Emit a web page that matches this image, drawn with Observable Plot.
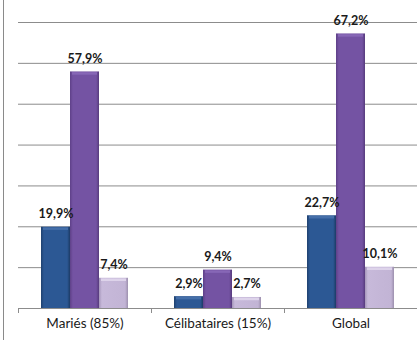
<!DOCTYPE html>
<html>
<head>
<meta charset="utf-8">
<script src="https://cdn.jsdelivr.net/npm/d3@7"></script>
<script src="https://cdn.jsdelivr.net/npm/@observablehq/plot@0.6"></script>
<style>
  html, body { margin: 0; padding: 0; background: #fff; }
  #chart { position: relative; width: 417px; height: 340px; overflow: hidden; }
  #chart::before { content: ""; position: absolute; left: 3px; top: 0; bottom: 0; border-left: 1px solid #8a8a8a; }
  #chart svg { display: block; }
</style>
</head>
<body>
<div id="chart"></div>
<script>
// Groups shown along the bottom axis
const groups = ["Mariés (85%)", "Célibataires (15%)", "Global"];
// Three series, one bar per group each (percentages)
const seriesNames = ["Série 1", "Série 2", "Série 3"];
const serie1 = [19.9, 2.9, 22.7];
const serie2 = [57.9, 9.4, 67.2];
const serie3 = [7.4, 2.7, 10.1];
// Horizontal grid values
const gridTicks = [0, 10, 20, 30, 40, 50, 60, 70];

const seriesValues = [serie1, serie2, serie3];
const data = groups.flatMap((group, i) =>
  seriesNames.map((series, j) => ({group, series, value: seriesValues[j][i]}))
);

const gradientIds = ["grad-s1", "grad-s2", "grad-s3"];
const highlight = ["#456fa9", "#8767b6", "#ddd3ea"];
const fmt = v => v.toFixed(1).replace(".", ",") + "%";

// Small tick marks at the boundaries between groups, under the baseline
function groupTicks(index, scales, values, dims) {
  const {width, height, marginLeft, marginRight, marginBottom} = dims;
  const y = height - marginBottom;
  const g = d3.create("svg:g").attr("stroke", "#8c8c8c").attr("stroke-width", 1);
  for (const x of [marginLeft, width - marginRight]) {
    g.append("line")
      .attr("x1", Math.round(x) + 0.5).attr("x2", Math.round(x) + 0.5)
      .attr("y1", y).attr("y2", y + 5);
  }
  return g.node();
}

const svg = Plot.plot({
  width: 417,
  height: 340,
  marginTop: 22,
  marginBottom: 32,
  marginLeft: 18,
  marginRight: 0,
  style: {fontFamily: "Lato, 'Open Sans', sans-serif", fontSize: "13.5px", background: "transparent", color: "#1a1a1a"},
  fx: {domain: groups, padding: 0, label: null, axis: "bottom", tickSize: 0, tickPadding: 10},
  x: {domain: seriesNames, paddingInner: 0, paddingOuter: 0.75, axis: null},
  y: {domain: [0, 70], axis: null},
  color: {domain: seriesNames, range: gradientIds.map(id => `url(#${id})`)},
  marks: [
    Plot.ruleY(gridTicks, {stroke: "#8c8c8c", strokeWidth: 1}),
    groupTicks,
    Plot.barY(data, {fx: "group", x: "series", y: "value", fill: "series"}),
    Plot.tickY(data, {
      fx: "group", x: "series", y: "value",
      stroke: d => highlight[seriesNames.indexOf(d.series)],
      strokeWidth: 2.5, dy: 1.5, insetLeft: 2, insetRight: 2
    }),
    Plot.text(data, {
      fx: "group", x: "series", y: "value",
      text: d => fmt(d.value),
      dy: -13, fontWeight: "bold", fontSize: 12.5, fill: "#1a1a1a"
    })
  ]
});

// Bar shading: darker edges, lighter body
const defs = d3.select(svg).insert("defs", ":first-child");
const gradStops = [
  [["0", "#1f416f"], ["0.1", "#2c5894"], ["0.9", "#2c5894"], ["1", "#1c3b66"]],
  [["0", "#5e4088"], ["0.1", "#7453a3"], ["0.9", "#7453a3"], ["1", "#573b7d"]],
  [["0", "#a596ba"], ["0.1", "#c7b9da"], ["0.9", "#c2b4d5"], ["1", "#9d90ae"]]
];
gradientIds.forEach((id, i) => {
  const lg = defs.append("linearGradient").attr("id", id)
    .attr("x1", 0).attr("x2", 1).attr("y1", 0).attr("y2", 0);
  for (const [o, c] of gradStops[i]) lg.append("stop").attr("offset", o).attr("stop-color", c);
});

document.getElementById("chart").append(svg);
</script>
</body>
</html>
